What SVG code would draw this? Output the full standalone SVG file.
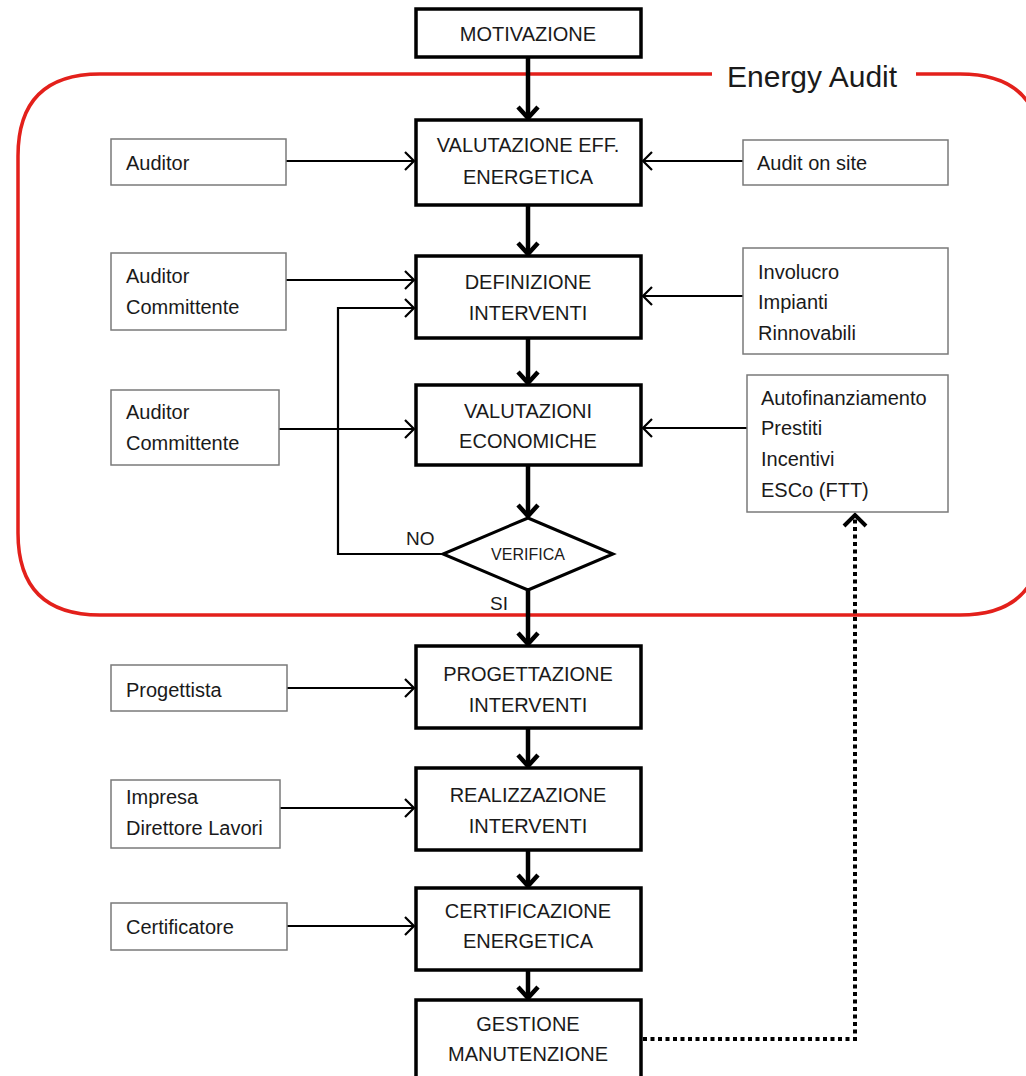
<svg xmlns="http://www.w3.org/2000/svg" width="1026" height="1076" viewBox="0 0 1026 1076">
<defs>
<style>
.main{fill:#fff;stroke:#000;stroke-width:3.5}
.side{fill:#fff;stroke:#7a7a7a;stroke-width:1.5}
.t{font-family:"Liberation Sans",Arial,sans-serif;font-size:20px;fill:#1a1a1a}
.c{text-anchor:middle}
.thick{fill:none;stroke:#000;stroke-width:4.5}
.thin{fill:none;stroke:#000;stroke-width:2.2}
.dot{fill:none;stroke:#000;stroke-width:4;stroke-dasharray:4 3.5}
.red{fill:none;stroke:#e3201b;stroke-width:3.5}
</style>
<marker id="ah" viewBox="-14 -12 16 24" refX="0" refY="0" markerWidth="16" markerHeight="24" markerUnits="userSpaceOnUse" orient="auto">
<path d="M-11,-10 L0,0 L-11,10" fill="none" stroke="#000" stroke-width="4.5"/>
</marker>
<marker id="at" viewBox="-12 -11 14 22" refX="0" refY="0" markerWidth="14" markerHeight="22" markerUnits="userSpaceOnUse" orient="auto">
<path d="M-9,-9 L0,0 L-9,9" fill="none" stroke="#000" stroke-width="2.2"/>
</marker>
</defs>
<rect width="1026" height="1076" fill="#fff"/>
<g id="energy-audit">
<path class="red" d="M712,74 L100,74 Q18,74 18,156 L18,533 Q18,615 100,615 L960,615 Q1042,615 1042,533 L1042,156 Q1042,74 960,74 L916,74"/>
<text class="t" x="727" y="87" style="font-size:30px">Energy Audit</text>
</g>
<g id="connectors">
<line class="thick" x1="528" y1="57" x2="528" y2="118" marker-end="url(#ah)"/>
<line class="thick" x1="528" y1="205" x2="528" y2="254" marker-end="url(#ah)"/>
<line class="thick" x1="528" y1="338" x2="528" y2="383" marker-end="url(#ah)"/>
<line class="thick" x1="528" y1="465" x2="528" y2="516" marker-end="url(#ah)"/>
<line class="thick" x1="528" y1="590" x2="528" y2="644" marker-end="url(#ah)"/>
<line class="thick" x1="528" y1="728" x2="528" y2="766" marker-end="url(#ah)"/>
<line class="thick" x1="528" y1="850" x2="528" y2="886" marker-end="url(#ah)"/>
<line class="thick" x1="528" y1="970" x2="528" y2="998" marker-end="url(#ah)"/>
<line class="thin" x1="286" y1="161" x2="414" y2="161" marker-end="url(#at)"/>
<line class="thin" x1="743" y1="161" x2="643" y2="161" marker-end="url(#at)"/>
<line class="thin" x1="286" y1="280" x2="414" y2="280" marker-end="url(#at)"/>
<line class="thin" x1="743" y1="296" x2="643" y2="296" marker-end="url(#at)"/>
<polyline class="thin" points="443,554 338,554 338,308 414,308" marker-end="url(#at)"/>
<line class="thin" x1="279" y1="429" x2="414" y2="429" marker-end="url(#at)"/>
<line class="thin" x1="747" y1="428" x2="643" y2="428" marker-end="url(#at)"/>
<line class="thin" x1="287" y1="688" x2="414" y2="688" marker-end="url(#at)"/>
<line class="thin" x1="280" y1="808" x2="414" y2="808" marker-end="url(#at)"/>
<line class="thin" x1="287" y1="926" x2="414" y2="926" marker-end="url(#at)"/>
<polyline class="dot" points="643,1039 855,1039 855,518"/>
<path d="M844,526 L855,515 L866,526" fill="none" stroke="#000" stroke-width="4"/>
<text class="t" x="406" y="545" style="font-size:19px">NO</text>
<text class="t" x="490" y="610" style="font-size:19px">SI</text>
</g>
<g id="motivazione"><rect class="main" x="416" y="9" width="225" height="48"/><text class="t c" x="528" y="41">MOTIVAZIONE</text></g>
<g id="valutazione-eff"><rect class="main" x="416" y="120" width="225" height="85"/><text class="t c" x="528" y="152">VALUTAZIONE EFF.</text><text class="t c" x="528" y="184">ENERGETICA</text></g>
<g id="definizione"><rect class="main" x="416" y="256" width="225" height="82"/><text class="t c" x="528" y="289">DEFINIZIONE</text><text class="t c" x="528" y="320">INTERVENTI</text></g>
<g id="valutazioni-eco"><rect class="main" x="416" y="385" width="225" height="80"/><text class="t c" x="528" y="418">VALUTAZIONI</text><text class="t c" x="528" y="448">ECONOMICHE</text></g>
<g id="verifica"><polygon points="528,518 613,554 528,590 443,554" fill="#fff" stroke="#000" stroke-width="3"/><text class="t c" x="528" y="560" style="font-size:16px">VERIFICA</text></g>
<g id="progettazione"><rect class="main" x="416" y="646" width="225" height="82"/><text class="t c" x="528" y="681">PROGETTAZIONE</text><text class="t c" x="528" y="712">INTERVENTI</text></g>
<g id="realizzazione"><rect class="main" x="416" y="768" width="225" height="82"/><text class="t c" x="528" y="802">REALIZZAZIONE</text><text class="t c" x="528" y="833">INTERVENTI</text></g>
<g id="certificazione"><rect class="main" x="416" y="888" width="225" height="82"/><text class="t c" x="528" y="918">CERTIFICAZIONE</text><text class="t c" x="528" y="948">ENERGETICA</text></g>
<g id="gestione"><rect class="main" x="416" y="1000" width="225" height="80"/><text class="t c" x="528" y="1031">GESTIONE</text><text class="t c" x="528" y="1061">MANUTENZIONE</text></g>
<g id="auditor"><rect class="side" x="111" y="139" width="175" height="46"/><text class="t" x="126" y="170">Auditor</text></g>
<g id="auditor-committente-1"><rect class="side" x="111" y="253" width="175" height="77"/><text class="t" x="126" y="283">Auditor</text><text class="t" x="126" y="314">Committente</text></g>
<g id="auditor-committente-2"><rect class="side" x="111" y="390" width="168" height="75"/><text class="t" x="126" y="419">Auditor</text><text class="t" x="126" y="450">Committente</text></g>
<g id="progettista"><rect class="side" x="111" y="665" width="176" height="46"/><text class="t" x="126" y="697">Progettista</text></g>
<g id="impresa"><rect class="side" x="111" y="780" width="169" height="68"/><text class="t" x="126" y="804">Impresa</text><text class="t" x="126" y="835">Direttore Lavori</text></g>
<g id="certificatore"><rect class="side" x="111" y="903" width="176" height="47"/><text class="t" x="126" y="934">Certificatore</text></g>
<g id="audit-on-site"><rect class="side" x="743" y="140" width="205" height="45"/><text class="t" x="757" y="170">Audit on site</text></g>
<g id="involucro"><rect class="side" x="743" y="248" width="205" height="106"/><text class="t" x="758" y="279">Involucro</text><text class="t" x="758" y="309">Impianti</text><text class="t" x="758" y="340">Rinnovabili</text></g>
<g id="finanziamento"><rect class="side" x="747" y="375" width="201" height="137"/><text class="t" x="761" y="405">Autofinanziamento</text><text class="t" x="761" y="435">Prestiti</text><text class="t" x="761" y="466">Incentivi</text><text class="t" x="761" y="497">ESCo (FTT)</text></g>
</svg>
